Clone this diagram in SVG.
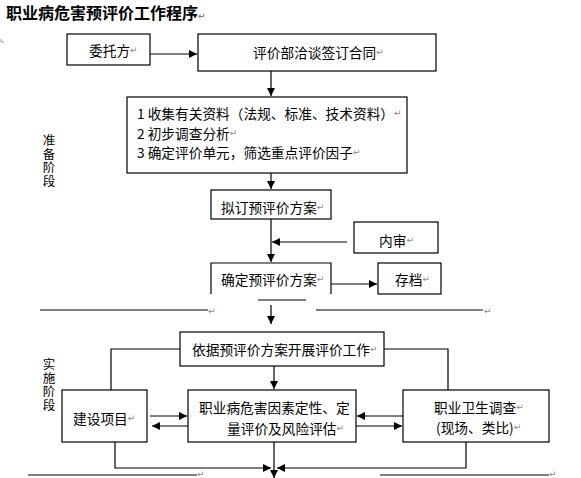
<svg xmlns="http://www.w3.org/2000/svg" width="581" height="478" viewBox="0 0 581 478">
<style>
.bx{fill:#fff;stroke:#000;stroke-width:1.2}
.ln{fill:none;stroke:#000;stroke-width:1.2}
.t{font-family:"Noto Sans CJK SC","Liberation Sans",sans-serif;font-size:13.7px;fill:#000;dominant-baseline:central}
.v{font-family:"Noto Sans CJK SC","Liberation Sans",sans-serif;font-size:12.5px;fill:#000;writing-mode:vertical-rl;letter-spacing:1px}
.pm{font-family:"DejaVu Sans",sans-serif;font-size:9px;fill:#888}
.title{font-family:"Noto Sans CJK SC","Liberation Sans",sans-serif;font-size:16px;font-weight:bold;fill:#000}
</style>
<defs>
<marker id="ah" viewBox="0 0 10 10" refX="10" refY="5" markerWidth="10" markerHeight="8" markerUnits="userSpaceOnUse" orient="auto">
<path d="M0,0 L10,5 L0,10 Z" fill="#000"/>
</marker>
</defs>
<rect width="581" height="478" fill="#fff"/>
<text class="title" x="6" y="18.5">职业病危害预评价工作程序<tspan class="pm">↵</tspan></text>
<path d="M1,39 V42 H4" fill="none" stroke="#888" stroke-width="0.8"/>

<g id="connectors">
<line class="ln" x1="150" y1="54" x2="197" y2="54" marker-end="url(#ah)"/>
<line class="ln" x1="271" y1="71" x2="271" y2="96" marker-end="url(#ah)"/>
<line class="ln" x1="271" y1="173" x2="271" y2="189" marker-end="url(#ah)"/>
<line class="ln" x1="271" y1="219" x2="271" y2="262" marker-end="url(#ah)"/>
<line class="ln" x1="347" y1="242" x2="272" y2="242" marker-end="url(#ah)"/>
<line class="ln" x1="331" y1="284" x2="377" y2="284" marker-end="url(#ah)"/>
<line class="ln" x1="258" y1="300" x2="306" y2="300"/>
<line class="ln" x1="271" y1="305" x2="271" y2="324" marker-end="url(#ah)"/>
<line class="ln" x1="40" y1="310" x2="208" y2="310"/>
<line class="ln" x1="316" y1="310" x2="483" y2="310"/>
<polyline class="ln" points="180,349 111,349 111,390"/>
<polyline class="ln" points="384,349 448,349 448,390"/>
<line class="ln" x1="274" y1="366" x2="274" y2="389" marker-end="url(#ah)"/>
<line class="ln" x1="150" y1="416" x2="187" y2="416" marker-end="url(#ah)" stroke="#333"/>
<line class="ln" x1="188" y1="426" x2="152" y2="426" marker-end="url(#ah)" stroke="#333"/>
<line class="ln" x1="403" y1="416" x2="357" y2="416" marker-end="url(#ah)" stroke="#333"/>
<line class="ln" x1="356" y1="426" x2="402" y2="426" marker-end="url(#ah)" stroke="#333"/>
<polyline class="ln" points="115,442 115,468 271,468" marker-end="url(#ah)"/>
<polyline class="ln" points="466,442 466,468 277,468" marker-end="url(#ah)"/>
<line class="ln" x1="274" y1="442" x2="274" y2="478" marker-end="url(#ah)"/>
<line class="ln" x1="28" y1="475" x2="197" y2="475"/>
<line class="ln" x1="380" y1="475" x2="549" y2="475"/>
<text class="pm" x="208" y="314">↵</text>
<text class="pm" x="484" y="314">↵</text>
<text class="pm" x="197" y="477" font-size="8">↵</text>
<text class="pm" x="549" y="477" font-size="8">↵</text>
</g>

<g id="n-weituo">
<rect class="bx" x="67" y="34" width="83" height="31"/>
<text class="t" x="89" y="50">委托方<tspan class="pm">↵</tspan></text>
</g>
<g id="n-hetong">
<rect class="bx" x="198" y="34" width="238" height="37"/>
<text class="t" x="253" y="52">评价部洽谈签订合同<tspan class="pm">↵</tspan></text>
</g>
<g id="n-zhunbei">
<rect class="bx" x="127" y="97" width="280" height="76"/>
<text class="t" x="137" y="113">1 收集有关资料（法规、标准、技术资料）<tspan class="pm">↵</tspan></text>
<text class="t" x="137" y="133">2 初步调查分析<tspan class="pm">↵</tspan></text>
<text class="t" x="137" y="152">3 确定评价单元，筛选重点评价因子<tspan class="pm">↵</tspan></text>
</g>
<g id="n-niding">
<rect class="bx" x="211" y="190" width="120" height="29"/>
<text class="t" x="221" y="207">拟订预评价方案<tspan class="pm">↵</tspan></text>
</g>
<g id="n-neishen">
<rect class="bx" x="354" y="222" width="84" height="31"/>
<text class="t" x="379" y="240">内审<tspan class="pm">↵</tspan></text>
</g>
<g id="n-queding">
<path class="bx" d="M211,294 V263 H331 V294"/>
<text class="t" x="221" y="279">确定预评价方案<tspan class="pm">↵</tspan></text>
</g>
<g id="n-cundang">
<rect class="bx" x="378" y="263" width="63" height="31"/>
<text class="t" x="395" y="279">存档<tspan class="pm">↵</tspan></text>
</g>
<g id="n-yiju">
<rect class="bx" x="180" y="332" width="204" height="34"/>
<text class="t" x="192" y="349">依据预评价方案开展评价工作<tspan class="pm">↵</tspan></text>
</g>
<g id="n-jianshe">
<rect class="bx" x="62" y="390" width="85" height="52"/>
<text class="t" x="73" y="418">建设项目<tspan class="pm">↵</tspan></text>
</g>
<g id="n-pingjia">
<rect class="bx" x="188" y="390" width="168" height="52"/>
<text class="t" x="199" y="407">职业病危害因素定性、定</text>
<text class="t" x="227" y="428">量评价及风险评估<tspan class="pm">↵</tspan></text>
</g>
<g id="n-weisheng">
<rect class="bx" x="403" y="390" width="146" height="52"/>
<text class="t" x="434" y="407">职业卫生调查<tspan class="pm">↵</tspan></text>
<text class="t" x="436" y="427">(现场、类比)<tspan class="pm">↵</tspan></text>
</g>
<g id="labels">
<text class="v" x="49" y="134">准备阶段</text>
<text class="v" x="49" y="358">实施阶段</text>
</g>
</svg>
